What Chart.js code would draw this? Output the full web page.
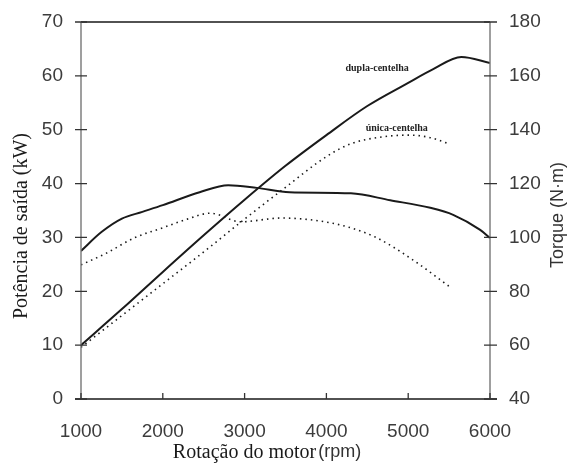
<!DOCTYPE html>
<html>
<head>
<meta charset="utf-8">
<script src="https://cdn.jsdelivr.net/npm/chart.js@4/dist/chart.umd.min.js"></script>
<style>
  html, body { margin: 0; padding: 0; background: #fff; }
  #wrap { width: 572px; height: 464px; }
</style>
</head>
<body>
<div id="wrap"><canvas id="chart" width="572" height="464"></canvas></div>
<script>
// rpm values and readings (power in kW on left axis, torque in N·m on right axis)
var rpmPowerDupla = [1000, 1500, 2000, 2500, 3000, 3500, 4000, 4500, 5000, 5300, 5650, 6000];
var powerDupla    = [10, 16.7, 23.6, 30.4, 37, 43.3, 49, 54.4, 58.7, 61.2, 63.5, 62.4];

var rpmPowerUnica = [1000, 1500, 2000, 2500, 3000, 3500, 4000, 4300, 4650, 5000, 5250, 5480];
var powerUnica    = [9.6, 15.5, 21.4, 27.3, 33.4, 39.3, 45, 47.4, 48.6, 49, 48.6, 47.5];

var rpmTorqueDupla = [1000, 1250, 1500, 1750, 2000, 2450, 2800, 3150, 3550, 4300, 4780, 5270, 5550, 5880, 6000];
var torqueDupla    = [95, 102, 107, 109.5, 112, 116.8, 119.4, 118.4, 116.8, 116.4, 113.8, 111, 108.4, 102.8, 99.8];

var rpmTorqueUnica = [1000, 1300, 1650, 2000, 2300, 2580, 2950, 3450, 3850, 4250, 4620, 5060, 5510];
var torqueUnica    = [89.8, 94, 99.8, 103.6, 106.8, 109, 105.8, 107.2, 106.4, 104, 99.8, 91.6, 81.6];

var rpmTicks = [1000, 2000, 3000, 4000, 5000, 6000];

var curveLabels = [
  { text: 'dupla-centelha', rpm: 4620, kw: 61.3 },
  { text: 'única-centelha', rpm: 4860, kw: 50.3 }
];

function toPoints(xs, ys) {
  return xs.map(function (x, i) { return { x: x, y: ys[i] }; });
}

var ink = '#1a1a1a';

var decor = {
  id: 'decor',
  afterDraw: function (chart) {
    var ctx = chart.ctx;
    var a = chart.chartArea;
    var xs = chart.scales.x, yl = chart.scales.yL, yr = chart.scales.yR;
    ctx.save();
    // frame lines
    ctx.strokeStyle = ink;
    ctx.lineWidth = 1.6;
    ctx.beginPath();
    ctx.moveTo(a.left, a.top); ctx.lineTo(a.right, a.top);
    ctx.moveTo(a.left - 6, a.bottom); ctx.lineTo(a.right + 7, a.bottom);
    ctx.stroke();
    ctx.strokeStyle = '#777';
    ctx.lineWidth = 1.4;
    ctx.beginPath();
    ctx.moveTo(a.left, a.top); ctx.lineTo(a.left, a.bottom);
    ctx.moveTo(a.right, a.top); ctx.lineTo(a.right, a.bottom);
    ctx.stroke();
    // tick marks crossing the axes
    ctx.strokeStyle = '#333';
    ctx.lineWidth = 1.3;
    ctx.beginPath();
    yl.ticks.forEach(function (t) {
      var y = yl.getPixelForValue(t.value);
      ctx.moveTo(a.left - 6, y); ctx.lineTo(a.left + 6, y);
    });
    yr.ticks.forEach(function (t) {
      var y = yr.getPixelForValue(t.value);
      ctx.moveTo(a.right - 6, y); ctx.lineTo(a.right + 7, y);
    });
    rpmTicks.forEach(function (v) {
      var x = xs.getPixelForValue(v);
      ctx.moveTo(x, a.bottom - 6); ctx.lineTo(x, a.bottom);
    });
    ctx.stroke();

    // curve labels
    ctx.fillStyle = '#222';
    ctx.font = 'bold 10px "Liberation Serif"';
    ctx.textAlign = 'center';
    ctx.textBaseline = 'middle';
    curveLabels.forEach(function (l) {
      ctx.fillText(l.text, xs.getPixelForValue(l.rpm), yl.getPixelForValue(l.kw));
    });

    // axis titles
    ctx.fillStyle = '#1a1a1a';
    ctx.save();
    ctx.translate(22, 226);
    ctx.rotate(-Math.PI / 2);
    ctx.font = '20px "Liberation Serif"';
    ctx.fillText('Potência de saída (kW)', 0, 0);
    ctx.restore();

    ctx.save();
    ctx.translate(558, 215);
    ctx.rotate(-Math.PI / 2);
    ctx.fillStyle = '#333';
    ctx.font = '18px "Liberation Sans"';
    ctx.fillText('Torque (N·m)', 0, 0);
    ctx.restore();

    ctx.textAlign = 'left';
    ctx.font = '20px "Liberation Serif"';
    var t1 = 'Rotação do motor';
    var w1 = ctx.measureText(t1).width;
    ctx.font = '18px "Liberation Sans"';
    var t2 = '(rpm)';
    var w2 = ctx.measureText(t2).width;
    var x0 = 267 - (w1 + w2 + 2) / 2;
    ctx.font = '20px "Liberation Serif"';
    ctx.fillText(t1, x0, 453);
    ctx.fillStyle = '#333';
    ctx.font = '18px "Liberation Sans"';
    ctx.fillText(t2, x0 + w1 + 2, 452);
    ctx.restore();
  }
};

var tickFont = { family: 'Liberation Sans', size: 19 };
var tickColor = '#3c3c3c';

function fitY(width) {
  return function (s) {
    s.width = width;
    s.paddingTop = 0;
    s.paddingBottom = 0;
  };
}

var config = {
  type: 'line',
  data: {
    datasets: [{
      data: toPoints(rpmPowerDupla, powerDupla),
      yAxisID: 'yL',
      borderColor: ink,
      borderWidth: 2
    }, {
      data: toPoints(rpmPowerUnica, powerUnica),
      yAxisID: 'yL',
      borderColor: ink,
      borderWidth: 1.6,
      borderDash: [1.5, 4]
    }, {
      data: toPoints(rpmTorqueDupla, torqueDupla),
      yAxisID: 'yR',
      borderColor: ink,
      borderWidth: 2
    }, {
      data: toPoints(rpmTorqueUnica, torqueUnica),
      yAxisID: 'yR',
      borderColor: ink,
      borderWidth: 1.6,
      borderDash: [1.5, 4]
    }]
  },
  options: {
    responsive: false,
    animation: false,
    layout: { padding: { top: 22, left: 0, right: 0, bottom: 0 } },
    elements: {
      point: { radius: 0 },
      line: { cubicInterpolationMode: 'monotone', fill: false }
    },
    plugins: {
      legend: { display: false },
      tooltip: { enabled: false }
    },
    scales: {
      x: {
        type: 'linear',
        min: 1000,
        max: 6000,
        afterBuildTicks: function (s) { s.ticks = rpmTicks.map(function (v) { return { value: v }; }); },
        ticks: {
          font: tickFont, color: tickColor, padding: 21, maxRotation: 0,
          callback: function (v) { return String(v); }
        },
        grid: { display: false, drawTicks: false },
        border: { display: false },
        afterFit: function (s) { s.height = 65; }
      },
      yL: {
        position: 'left',
        min: 0,
        max: 70,
        ticks: { stepSize: 10, font: tickFont, color: tickColor, padding: 18 },
        grid: { display: false, drawTicks: false },
        border: { display: false },
        afterFit: fitY(81)
      },
      yR: {
        position: 'right',
        min: 40,
        max: 180,
        ticks: { stepSize: 20, font: tickFont, color: tickColor, padding: 19 },
        grid: { display: false, drawTicks: false },
        border: { display: false },
        afterFit: fitY(82)
      }
    }
  },
  plugins: [decor]
};

window.myChart = new Chart(document.getElementById('chart').getContext('2d'), config);
</script>
</body>
</html>
